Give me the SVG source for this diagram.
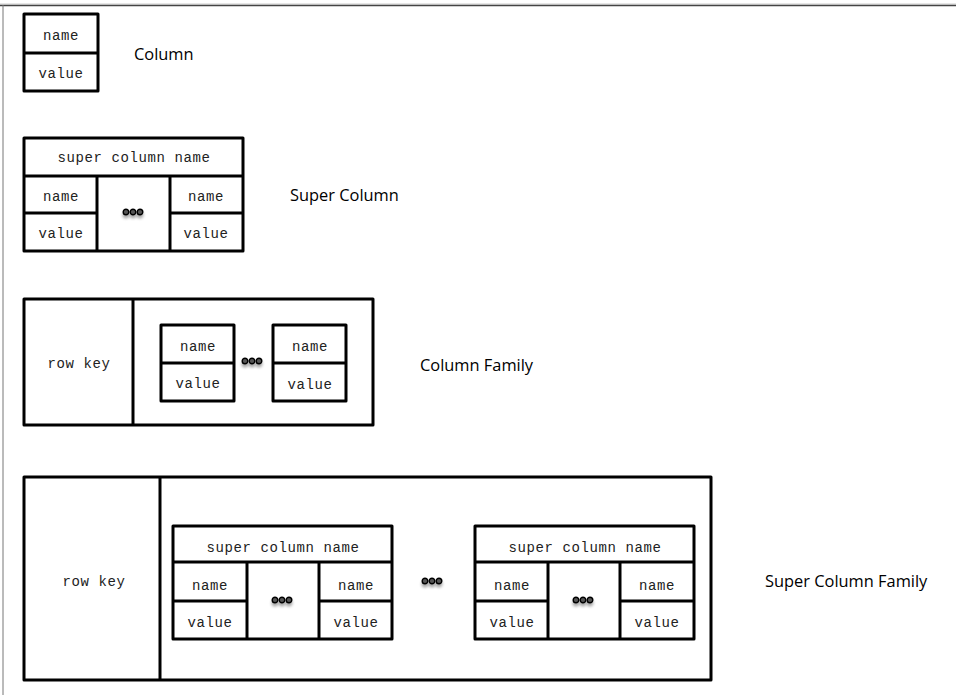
<svg xmlns="http://www.w3.org/2000/svg" xmlns:xlink="http://www.w3.org/1999/xlink" width="956" height="695" viewBox="0 0 956 695">
<style>
.b{fill:#fff;stroke:#000;stroke-width:3;stroke-linejoin:round}
.l{stroke:#000;stroke-width:3;fill:none}
.m{font-family:"Liberation Mono","Courier New",monospace;font-size:14px;letter-spacing:0.6px;fill:#222;text-anchor:middle}
.s{font-family:"Open Sans","Liberation Sans",sans-serif;font-size:16.4px;fill:#000}
</style>
<defs>
<filter id="sh" x="-50%" y="-100%" width="200%" height="400%">
<feGaussianBlur in="SourceAlpha" stdDeviation="1.5" result="b"/>
<feOffset dy="3" in="b" result="o"/>
<feComponentTransfer in="o" result="o2"><feFuncA type="linear" slope="0.35"/></feComponentTransfer>
<feMerge><feMergeNode in="o2"/><feMergeNode in="SourceGraphic"/></feMerge>
</filter>
<g id="dots" filter="url(#sh)">
<circle cx="-7" cy="0" r="2.8" fill="#555" stroke="#000" stroke-width="1.4"/>
<circle cx="0" cy="0" r="2.8" fill="#555" stroke="#000" stroke-width="1.4"/>
<circle cx="7" cy="0" r="2.8" fill="#555" stroke="#000" stroke-width="1.4"/>
</g>
</defs>
<rect width="956" height="695" fill="#fff"/>
<line x1="0" y1="4" x2="956" y2="4" stroke="#ccc" stroke-width="1"/>
<line x1="0" y1="5.5" x2="956" y2="5.5" stroke="#444" stroke-width="1.5"/>
<line x1="3" y1="5" x2="3" y2="695" stroke="#777" stroke-width="1"/>

<g id="column">
<rect class="b" x="24" y="14" width="74" height="77"/>
<line class="l" x1="24" y1="53" x2="98" y2="53"/>
<text class="m" x="61" y="40">name</text>
<text class="m" x="61" y="78">value</text>
<text class="s" x="134" y="60">Column</text>
</g>

<g id="super-column">
<rect class="b" x="24" y="138" width="219" height="113"/>
<line class="l" x1="24" y1="176" x2="243" y2="176"/>
<line class="l" x1="97" y1="176" x2="97" y2="251"/>
<line class="l" x1="170" y1="176" x2="170" y2="251"/>
<line class="l" x1="24" y1="213" x2="97" y2="213"/>
<line class="l" x1="170" y1="213" x2="243" y2="213"/>
<text class="m" x="134" y="162">super column name</text>
<text class="m" x="61" y="201">name</text>
<text class="m" x="61" y="238">value</text>
<text class="m" x="206" y="201">name</text>
<text class="m" x="206" y="238">value</text>
<use xlink:href="#dots" x="133" y="212"/>
<text class="s" x="290" y="201">Super Column</text>
</g>

<g id="column-family">
<rect class="b" x="24" y="299" width="349" height="126"/>
<line class="l" x1="133" y1="299" x2="133" y2="425"/>
<rect class="b" x="161" y="325" width="73" height="76"/>
<line class="l" x1="161" y1="363" x2="234" y2="363"/>
<rect class="b" x="273" y="325" width="73" height="76"/>
<line class="l" x1="273" y1="363" x2="346" y2="363"/>
<text class="m" x="79" y="368">row key</text>
<text class="m" x="198" y="351">name</text>
<text class="m" x="198" y="388">value</text>
<text class="m" x="310" y="351">name</text>
<text class="m" x="310" y="389">value</text>
<use xlink:href="#dots" x="252" y="361"/>
<text class="s" x="420" y="371">Column Family</text>
</g>

<g id="super-column-family">
<rect class="b" x="24" y="477" width="687" height="203"/>
<line class="l" x1="160" y1="477" x2="160" y2="680"/>
<text class="m" x="94" y="586">row key</text>
<g id="sc1">
<rect class="b" x="173" y="526" width="219" height="113"/>
<line class="l" x1="173" y1="562" x2="392" y2="562"/>
<line class="l" x1="247" y1="562" x2="247" y2="639"/>
<line class="l" x1="319" y1="562" x2="319" y2="639"/>
<line class="l" x1="173" y1="601" x2="247" y2="601"/>
<line class="l" x1="319" y1="601" x2="392" y2="601"/>
<text class="m" x="283" y="552">super column name</text>
<text class="m" x="210" y="590">name</text>
<text class="m" x="210" y="627">value</text>
<text class="m" x="356" y="590">name</text>
<text class="m" x="356" y="627">value</text>
<use xlink:href="#dots" x="282" y="600"/>
</g>
<use xlink:href="#dots" x="432" y="581"/>
<g id="sc2">
<rect class="b" x="475" y="526" width="219" height="113"/>
<line class="l" x1="475" y1="562" x2="694" y2="562"/>
<line class="l" x1="548" y1="562" x2="548" y2="639"/>
<line class="l" x1="620" y1="562" x2="620" y2="639"/>
<line class="l" x1="475" y1="601" x2="548" y2="601"/>
<line class="l" x1="620" y1="601" x2="694" y2="601"/>
<text class="m" x="585" y="552">super column name</text>
<text class="m" x="512" y="590">name</text>
<text class="m" x="512" y="627">value</text>
<text class="m" x="657" y="590">name</text>
<text class="m" x="657" y="627">value</text>
<use xlink:href="#dots" x="583" y="600"/>
</g>
<text class="s" x="765" y="587">Super Column Family</text>
</g>
</svg>
